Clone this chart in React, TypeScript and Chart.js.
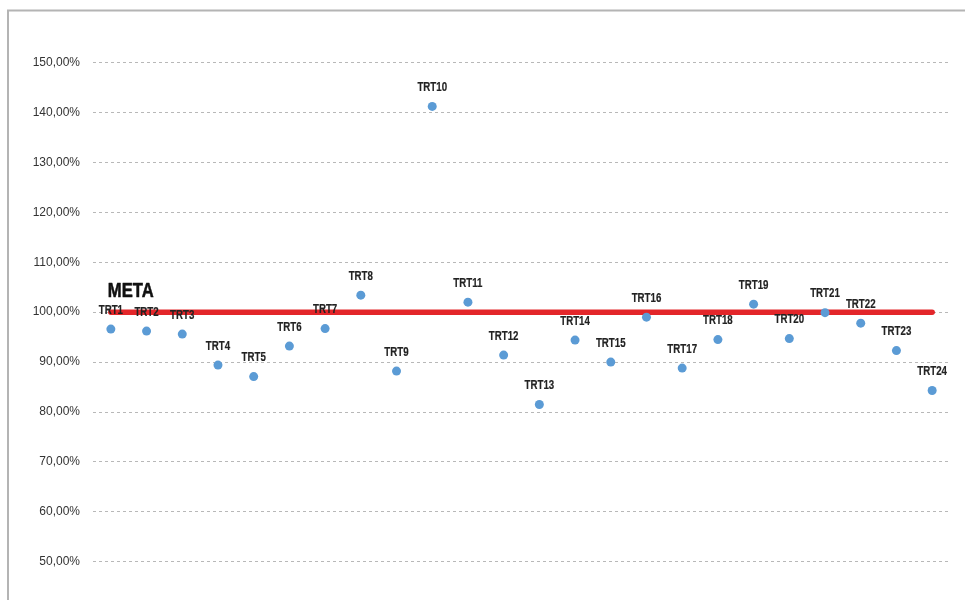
import React, { useEffect, useRef } from "react";
import { Chart, registerables } from "chart.js";

Chart.register(...registerables);

const categories = [
  "TRT1", "TRT2", "TRT3", "TRT4", "TRT5", "TRT6", "TRT7", "TRT8", "TRT9", "TRT10", "TRT11", "TRT12",
  "TRT13", "TRT14", "TRT15", "TRT16", "TRT17", "TRT18", "TRT19", "TRT20", "TRT21", "TRT22", "TRT23", "TRT24",
];
const results = [
  0.966, 0.962, 0.956, 0.894, 0.871, 0.932, 0.967, 1.034, 0.882, 1.412, 1.020, 0.914,
  0.815, 0.944, 0.900, 0.990, 0.888, 0.945, 1.016, 0.947, 0.999, 0.978, 0.923, 0.843,
];
const metaValue = 1.0;
const metaLabel = "META";
const yTicks = [0.5, 0.6, 0.7, 0.8, 0.9, 1.0, 1.1, 1.2, 1.3, 1.4, 1.5];

const FONT = "'Liberation Sans', Arial, sans-serif";

function narrowText(ctx: CanvasRenderingContext2D, text: string, x: number, y: number, sx: number, stroke: number) {
  ctx.save();
  ctx.translate(x, y);
  ctx.scale(sx, 1);
  ctx.fillText(text, 0, 0);
  if (stroke > 0) {
    ctx.lineWidth = stroke;
    ctx.strokeStyle = ctx.fillStyle as string;
    ctx.lineJoin = "round";
    ctx.strokeText(text, 0, 0);
  }
  ctx.restore();
}

export default function App() {
  const ref = useRef<HTMLCanvasElement | null>(null);

  useEffect(() => {
    const canvas = ref.current!;
    const borderPlugin = {
      id: "frame",
      beforeDraw(chart: any) {
        const ctx = chart.ctx;
        ctx.save();
        ctx.fillStyle = "#ffffff";
        ctx.fillRect(0, 0, chart.width, chart.height);
        ctx.strokeStyle = "#b4b4b4";
        ctx.lineWidth = 2;
        ctx.beginPath();
        ctx.moveTo(8, chart.height);
        ctx.lineTo(8, 10.5);
        ctx.lineTo(chart.width, 10.5);
        ctx.stroke();
        ctx.restore();
      },
    };
    const labelPlugin = {
      id: "pointLabels",
      afterDatasetsDraw(chart: any) {
        const ctx = chart.ctx;
        const meta = chart.getDatasetMeta(1);
        ctx.save();
        ctx.fillStyle = "#222222";
        ctx.textAlign = "center";
        ctx.textBaseline = "middle";
        ctx.font = "bold 13.5px " + FONT;
        meta.data.forEach((pt: any, i: number) => {
          narrowText(ctx, categories[i], pt.x, pt.y - 19, 0.72, 0.2);
        });
        const lineMeta = chart.getDatasetMeta(0);
        const first = lineMeta.data[0];
        ctx.textAlign = "left";
        ctx.fillStyle = "#111111";
        ctx.font = "bold 21px " + FONT;
        narrowText(ctx, metaLabel, first.x - 3, first.y - 21, 0.79, 0.6);
        ctx.restore();
      },
    };

    const chart = new Chart(canvas, {
      type: "line",
      data: {
        labels: categories,
        datasets: [
          {
            label: metaLabel,
            data: categories.map(() => metaValue),
            borderColor: "#e3262a",
            backgroundColor: "#e3262a",
            borderWidth: 5.5,
            borderCapStyle: "round",
            pointRadius: 0,
            pointHoverRadius: 0,
            order: 2,
          },
          {
            label: "Resultado",
            data: results,
            showLine: false,
            pointRadius: 4.5,
            pointBackgroundColor: "#5b9bd5",
            pointBorderColor: "#5b9bd5",
            pointBorderWidth: 0,
            order: 1,
          },
        ],
      },
      options: {
        animation: false,
        responsive: false,
        maintainAspectRatio: false,
        layout: { padding: { top: 38, bottom: 0, right: 15, left: 0 } },
        plugins: { legend: { display: false }, tooltip: { enabled: false } },
        scales: {
          x: {
            type: "category",
            offset: true,
            display: false,
          },
          y: {
            min: 0.464,
            max: 1.549,
            afterBuildTicks(scale: any) {
              scale.ticks = yTicks.map((v) => ({ value: v }));
            },
            afterFit(scale: any) {
              scale.width = 93;
            },
            border: { display: false, dash: [3, 3] },
            grid: {
              color: "#b8b8b8",
              lineWidth: 1,
              drawTicks: false,
            },
            ticks: {
              padding: 13,
              color: "#333333",
              font: { family: FONT, size: 12 },
              callback: (v: any) => (Number(v) * 100).toFixed(2).replace(".", ",") + "%",
            },
          },
        },
      },
      plugins: [borderPlugin, labelPlugin],
    } as any);
    return () => chart.destroy();
  }, []);

  return (
    <canvas
      ref={ref}
      width={965}
      height={600}
      style={{ position: "fixed", left: 0, top: 0, width: 965, height: 600 }}
    />
  );
}
